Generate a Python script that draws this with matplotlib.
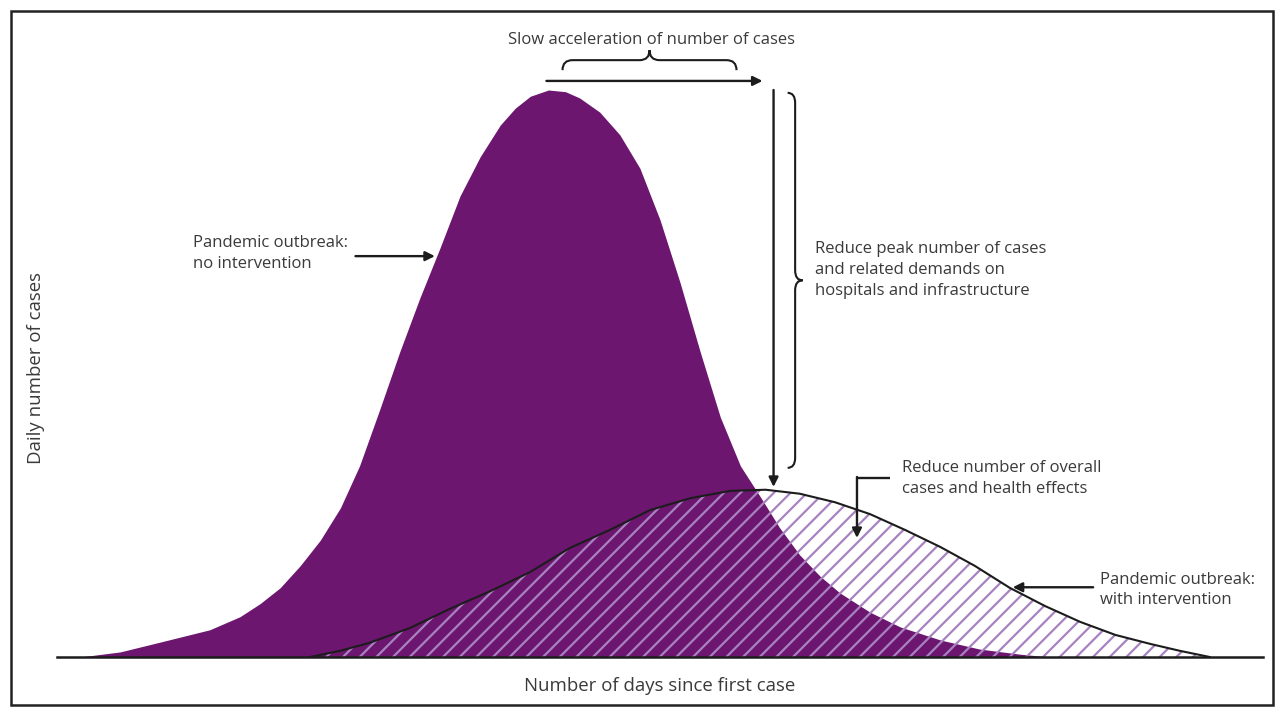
import numpy as np
import matplotlib
matplotlib.use("Agg")
import matplotlib.pyplot as plt
from matplotlib.path import Path
from matplotlib.patches import PathPatch, Rectangle
import matplotlib.transforms as mtransforms

# curves: days since first case vs daily cases (peak = 100)
days_no_int = [2.3, 6.3, 10.2, 15.2, 18.2, 20.2, 22.2, 24.2, 26.2, 28.2, 30.1,
               32.1, 34.1, 36.1, 38.1, 40.1, 42.1, 44.1, 45.6, 47.1, 48.9, 50.6,
               52.0, 54.0, 56.0, 58.0, 60.0, 62.0, 64.0, 66.0, 68.0, 70.0, 71.9,
               73.9, 75.9, 77.9, 80.9, 83.9, 87.9, 91.8, 95.8, 98.8]
cases_no_int = [0.0, 0.9, 2.6, 4.8, 7.1, 9.4, 12.2, 16.1, 20.6, 26.3, 33.7,
                43.6, 53.8, 63.3, 72.1, 81.3, 88.2, 93.8, 96.8, 98.9, 100.0, 99.7,
                98.6, 96.1, 92.1, 86.2, 77.1, 66.0, 53.8, 42.3, 33.7, 28.2, 22.8,
                18.0, 14.3, 11.3, 7.9, 5.3, 3.0, 1.4, 0.5, 0.0]

days_int = [25.2, 28.2, 31.1, 35.1, 39.1, 43.1, 47.1, 51.0, 55.0, 59.0, 63.0,
            67.0, 70.5, 73.9, 77.4, 80.9, 84.4, 87.9, 91.3, 94.8, 98.3, 101.8,
            105.3, 108.8, 111.7, 114.7]
cases_int = [0.0, 1.1, 2.5, 5.1, 8.5, 11.6, 15.0, 19.2, 22.4, 25.9, 28.0,
             29.3, 29.5, 28.8, 27.3, 25.2, 22.4, 19.4, 16.1, 12.2, 9.0, 6.2,
             3.9, 2.3, 1.1, 0.0]

PURPLE = "#6c166f"
HATCH = "#a882c0"
INK = "#1c1c1c"
TEXT = "#3a3a3a"
FONT = ["Open Sans", "DejaVu Sans"]

plt.rcParams["font.family"] = FONT
plt.rcParams["hatch.linewidth"] = 1.6

fig = plt.figure(figsize=(12.8, 7.2), dpi=100)
ax = fig.add_axes([57 / 1280, 63 / 720, 1206 / 1280, 623.7 / 720])
ax.set_xlim(0, 120)
ax.set_ylim(0, 110)
for side in ["top", "right", "left"]:
    ax.spines[side].set_visible(False)
ax.spines["bottom"].set_linewidth(1.8)
ax.spines["bottom"].set_color(INK)
ax.set_xticks([])
ax.set_yticks([])
ax.patch.set_alpha(0)

# curves
ax.fill_between(days_no_int, cases_no_int, 0, color=PURPLE, lw=0, zorder=1)
ax.fill_between(days_int, cases_int, 0, facecolor="none", edgecolor=HATCH,
                hatch="//", lw=0, zorder=2)
ax.plot(days_int, cases_int, color=INK, lw=1.5, zorder=3)

peak_no = int(np.argmax(cases_no_int))
peak_int = int(np.argmax(cases_int))
x_peak_no, y_peak_no = days_no_int[peak_no], cases_no_int[peak_no]
x_peak_int, y_peak_int = days_int[peak_int], cases_int[peak_int]
x_drop = x_peak_int + 0.8

arrow = dict(arrowstyle="-|>", color=INK, lw=1.7, mutation_scale=14,
             shrinkA=0, shrinkB=0)


def brace(x0, y0, length, height, vertical=False):
    # brace drawn in pixel offsets from a data anchor
    r = min(10, length / 8)
    half = length / 2
    pts = [(0, 0), (0, height / 2), (r, height / 2), (half - r, height / 2),
           (half, height / 2), (half, height), (half, height / 2),
           (half + r, height / 2), (length - r, height / 2),
           (length, height / 2), (length, 0)]
    codes = [Path.MOVETO, Path.CURVE3, Path.CURVE3, Path.LINETO,
             Path.CURVE3, Path.CURVE3, Path.CURVE3, Path.CURVE3,
             Path.LINETO, Path.CURVE3, Path.CURVE3]
    if vertical:
        pts = [(t, -s) for s, t in pts]
    trans = mtransforms.Affine2D() + mtransforms.ScaledTranslation(x0, y0, ax.transData)
    ax.add_patch(PathPatch(Path(pts, codes), fill=False, ec=INK, lw=1.5,
                           transform=trans, clip_on=False, zorder=4))


# slow acceleration
ax.annotate("", xy=(x_drop - 1.1, 101.6), xytext=(x_peak_no - 0.2, 101.6),
            arrowprops=arrow, annotation_clip=False)
brace(50.3, 103.5, 174, 20)
ax.text(59.2, 108.8, "Slow acceleration of number of cases", ha="center",
        va="center", fontsize=12, color=TEXT, clip_on=False)

# reduce peak
ax.annotate("", xy=(x_drop, y_peak_int + 0.5), xytext=(x_drop, y_peak_no),
            arrowprops=arrow, annotation_clip=False)
brace(72.7, 99.5, 375, 15, vertical=True)
ax.text(75.4, 68.3, "Reduce peak number of cases\nand related demands on\nhospitals and infrastructure",
        ha="left", va="center", fontsize=12, color=TEXT, linespacing=1.4)

# reduce overall cases
ax.plot([82.9, 79.6], [31.6, 31.6], color=INK, lw=1.7, solid_capstyle="butt", zorder=4)
ax.annotate("", xy=(79.6, 21.0), xytext=(79.6, 31.75), arrowprops=arrow)
ax.text(84.1, 31.5, "Reduce number of overall\ncases and health effects",
        ha="left", va="center", fontsize=12, color=TEXT, linespacing=1.4)

# labels for the two curves
ax.annotate("", xy=(37.6, 70.7), xytext=(29.7, 70.7), arrowprops=arrow)
ax.text(13.5, 71.1, "Pandemic outbreak:\nno intervention", ha="left",
        va="center", fontsize=12, color=TEXT, linespacing=1.4)
ax.annotate("", xy=(95.1, 12.3), xytext=(103.1, 12.3), arrowprops=arrow)
ax.text(103.8, 11.8, "Pandemic outbreak:\nwith intervention", ha="left",
        va="center", fontsize=12, color=TEXT, linespacing=1.4)

# axis titles
fig.text(660 / 1280, 1 - 686 / 720, "Number of days since first case",
         ha="center", va="center", fontsize=13.4, color=TEXT)
fig.text(36 / 1280, 1 - 368 / 720, "Daily number of cases", rotation=90,
         ha="center", va="center", fontsize=13.4, color=TEXT)

# outer frame
fig.add_artist(Rectangle((11 / 1280, 1 - 705 / 720), 1262 / 1280, 694 / 720,
                         transform=fig.transFigure, fill=False, ec="#222222", lw=1.8))

fig.savefig("out.png", dpi=100)
